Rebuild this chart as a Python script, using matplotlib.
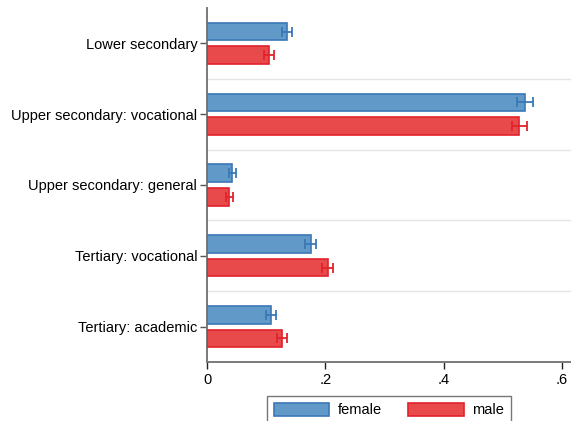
import numpy as np
import matplotlib
matplotlib.use("Agg")
import matplotlib.pyplot as plt

plt.rcParams['font.family'] = ['Liberation Sans', 'DejaVu Sans']

categories = ["Lower secondary", "Upper secondary: vocational",
              "Upper secondary: general", "Tertiary: vocational",
              "Tertiary: academic"]
female = [0.136, 0.538, 0.043, 0.175, 0.108]
female_err = [0.0085, 0.0135, 0.0057, 0.0087, 0.009]
male = [0.105, 0.528, 0.038, 0.204, 0.126]
male_err = [0.008, 0.013, 0.006, 0.0093, 0.0085]
xticks = [0, 0.2, 0.4, 0.6]
xticklabels = ["0", ".2", ".4", ".6"]

blue_face, blue_edge = '#6199c8', '#3a78b6'
red_face, red_edge = '#e8494b', '#e2232b'
fs = 10.5

fig = plt.figure(figsize=(5.71, 4.21), dpi=100)
ax = fig.add_axes([207 / 571, 59 / 421, 364 / 571, 354 / 421])

y = np.arange(len(categories))
off = 0.166
h = 0.25

ax.barh(y - off, female, height=h, color=blue_face, edgecolor=blue_edge,
        linewidth=1.2, label='female', zorder=3)
ax.barh(y + off, male, height=h, color=red_face, edgecolor=red_edge,
        linewidth=1.2, label='male', zorder=3)
ax.errorbar(female, y - off, xerr=female_err, fmt='none', ecolor=blue_edge,
            elinewidth=1.3, capsize=3.5, capthick=1.3, zorder=4)
ax.errorbar(male, y + off, xerr=male_err, fmt='none', ecolor=red_edge,
            elinewidth=1.3, capsize=3.5, capthick=1.3, zorder=4)

# separators between groups
for b in np.arange(len(categories) - 1) + 0.5:
    ax.axhline(b, color='#e4e4e4', linewidth=1.0, zorder=1)

ax.set_ylim(len(categories) - 0.5, -0.5)
ax.set_xlim(0, 364 / 591.5)
ax.set_yticks(y)
ax.set_yticklabels(categories, fontsize=fs)
ax.set_xticks(xticks)
ax.set_xticklabels(xticklabels, fontsize=fs)

for s in ['top', 'right']:
    ax.spines[s].set_visible(False)
for s in ['left', 'bottom']:
    ax.spines[s].set_color('#7a7a7a')
    ax.spines[s].set_linewidth(1.4)
ax.tick_params(axis='y', length=5, width=1, color='#555555', pad=2)
ax.tick_params(axis='x', length=5, width=1, color='#222222', pad=3)

leg = fig.legend(loc='upper center', bbox_to_anchor=(389 / 571, 1 - 396 / 421),
                 ncol=2, frameon=True, fancybox=False, fontsize=fs,
                 handlelength=3.8, handleheight=1.05, handletextpad=0.6,
                 columnspacing=1.8, borderpad=0.45, borderaxespad=0)
leg.get_frame().set_edgecolor('#555555')
leg.get_frame().set_linewidth(1.0)

fig.savefig("out.png", dpi=100)
